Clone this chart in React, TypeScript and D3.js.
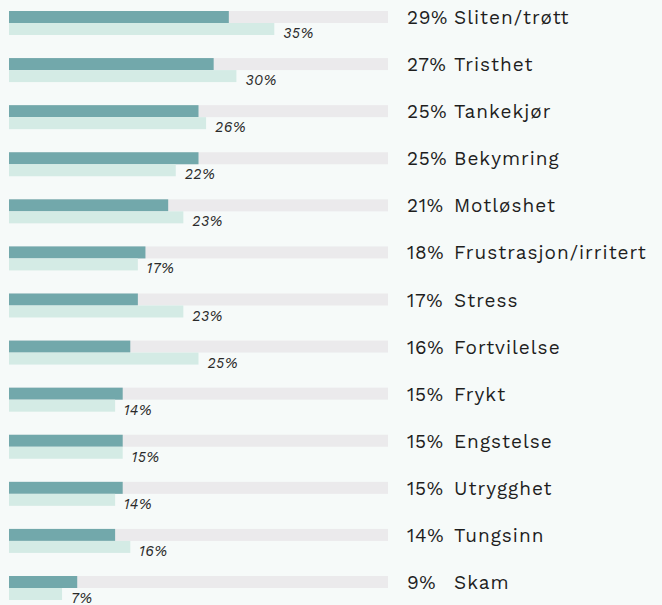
import React from "react";
import * as d3 from "d3";

const categories = [
  "Sliten/trøtt", "Tristhet", "Tankekjør", "Bekymring", "Motløshet",
  "Frustrasjon/irritert", "Stress", "Fortvilelse", "Frykt", "Engstelse",
  "Utrygghet", "Tungsinn", "Skam",
];
const primaryValues = [29, 27, 25, 25, 21, 18, 17, 16, 15, 15, 15, 14, 9];
const secondaryValues = [35, 30, 26, 22, 23, 17, 23, 25, 14, 15, 14, 16, 7];
const maxValue = 50;

const W = 662;
const H = 605;

export default function App() {
  const x = d3.scaleLinear().domain([0, maxValue]).range([9, 388]);
  const y = d3.scalePoint<string>().domain(categories).range([11, 576]);
  const barH = 12;
  const font = "'Work Sans', Inter, 'Noto Sans', sans-serif";
  return (
    <svg width={W} height={H} style={{ position: "absolute", left: 0, top: 0, display: "block" }}>
      <rect x={0} y={0} width={W} height={H} fill="#f6faf9" />
      {categories.map((c, i) => {
        const y0 = y(c)!;
        return (
          <g key={c}>
            <rect x={x(0)} y={y0} width={x(maxValue) - x(0)} height={barH} fill="#ebeaec" />
            <rect x={x(0)} y={y0} width={x(primaryValues[i]) - x(0)} height={barH} fill="#72a8ab" />
            <rect x={x(0)} y={y0 + barH} width={x(secondaryValues[i]) - x(0)} height={barH} fill="#d4ebe5" />
            <text
              x={x(secondaryValues[i]) + 9}
              y={y0 + 27}
              fontFamily={font}
              fontStyle="italic"
              fontSize={14.5}
              letterSpacing={0.4}
              fill="#2a2a2a"
            >
              {secondaryValues[i]}%
            </text>
            <text x={407} y={y0 + 13} fontFamily={font} fontSize={19} letterSpacing={0.6} fill="#1e1e1e">
              {primaryValues[i]}%
            </text>
            <text x={454} y={y0 + 13} fontFamily={font} fontSize={19} letterSpacing={1} fill="#1e1e1e">
              {c}
            </text>
          </g>
        );
      })}
    </svg>
  );
}
